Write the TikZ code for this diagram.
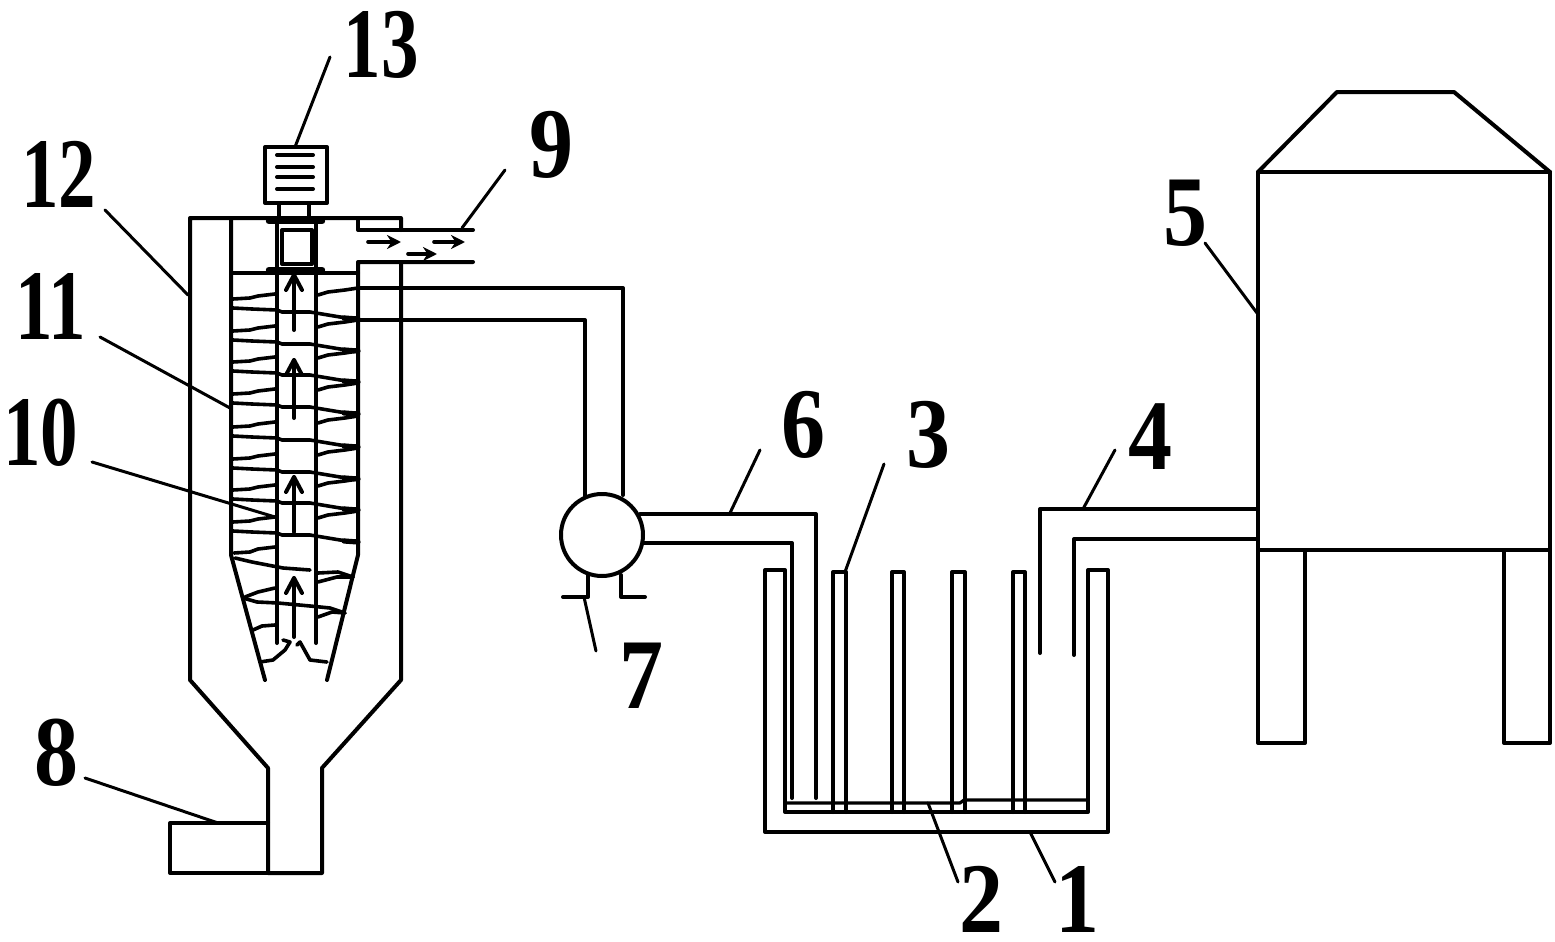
\documentclass[tikz,border=0pt]{standalone}
\usepackage{fontspec}
\usepackage{graphicx}
\setmainfont{Liberation Serif}
\usetikzlibrary{arrows.meta}
\tikzset{
  x=0.5pt,y=-0.5pt,
  wall/.style={line width=2pt,line cap=round,line join=round,black},
  thin wall/.style={line width=1.6pt,line cap=round,line join=round,black},
  blade/.style={line width=1.8pt,line cap=round,line join=round,black},
  bladeend/.style={line width=2.6pt,line cap=round,black},
  plate/.style={line width=3.2pt,line cap=round,black},
  leader/.style={line width=1.5pt,line cap=round,black},
  flowup/.style={line width=2pt,line cap=round,line join=round,black},
  flowright/.style={line width=1.8pt,line cap=round,black,-{Stealth[length=7pt,width=7pt]}},
  num/.style={font=\fontsize{50}{50}\selectfont\bfseries,inner sep=0pt,black},
}
\newcommand{\pairnum}[1]{\scalebox{0.75}[1]{#1}}
\newcommand{\onenum}[1]{\scalebox{0.88}[1]{#1}}
\begin{document}
\begin{tikzpicture}
\useasboundingbox (0,0) rectangle (1555,942);
% separator outer shell
\draw[wall] (401,230) -- (401,218) -- (190,218) -- (190,680) -- (268,768) -- (268,873) -- (322,873) -- (322,768) -- (401,680) -- (401,262);
\draw[wall] (268,823) -- (170,823) -- (170,873) -- (268,873);
% inner walls and outlet
\draw[wall] (231,218) -- (231,555) -- (265,680);
\draw[wall] (473,230) -- (358,230) -- (358,218);
\draw[wall] (473,262) -- (358,262) -- (358,555) -- (327,680);
% motor
\draw[wall] (265,147) rectangle (327,203);
\foreach \yy in {155,167,177,189} \draw[wall] (277,\yy) -- (313,\yy);
\draw[wall] (279,203) -- (279,218) (309,203) -- (309,218);
\draw[plate] (269,221) -- (322,221);
\draw[plate] (269,270) -- (322,270);
\draw[wall] (231,273) -- (358,273);
\draw[wall] (282,230) rectangle (312,264);
\draw[wall] (277,221) -- (277,643) (316,221) -- (316,643);
% spiral blades
\foreach \k in {308,340,371,403,436,468,499,531}{
  \draw[blade] (233,\k-9) -- (250,\k-10) -- (258,\k-12) -- (275,\k-14);
  \draw[blade] (233,\k) -- (252,\k+1) -- (277,\k+2) -- (282,\k+4) -- (310,\k+4) -- (316,\k+5) -- (340,\k+9) -- (358,\k+11);
  \draw[bladeend] (344,\k+10) -- (358,\k+11);
  \draw[blade] (318,\k-13) -- (328,\k-16) -- (345,\k-18) -- (358,\k-20);
}
\draw[blade] (234,553) -- (250,552) -- (258,549) -- (275,547);
\draw[blade] (235,558) -- (252,562) -- (283,568) -- (310,570);
\draw[blade] (318,573) -- (338,572) -- (353,577);
\draw[blade] (318,582) -- (337,577) -- (353,577);
\draw[blade] (245,597) -- (258,592) -- (275,588);
\draw[blade] (243,598) -- (257,602) -- (278,603) -- (310,606) -- (330,608) -- (345,613);
\draw[blade] (318,617) -- (332,612) -- (345,613);
\draw[blade] (253,630) -- (262,626) -- (275,625);
\draw[blade] (260,662) -- (273,660) -- (285,650) -- (290,642) -- (283,640);
\draw[blade] (327,662) -- (310,660) -- (300,642) -- (297,645);
% upward flow arrows
\foreach \top/\bot in {275/330,360/418,477/532,578/637}{
  \draw[flowup] (294,\bot) -- (294,\top);
  \draw[flowup] (286,\top+15) -- (294,\top) -- (302,\top+15);
}
% outlet flow arrows
\draw[flowright] (368,242) -- (401,242);
\draw[flowright] (408,254) -- (437,254);
\draw[flowright] (434,242) -- (465,242);
% pipe from separator to pump
\draw[wall] (358,288) -- (623,288) -- (623,495);
\draw[wall] (358,320) -- (585,320) -- (585,497);
% pump
\draw[wall] (602,535) circle (41);
\draw[wall] (640,514) -- (816,514) -- (816,798);
\draw[wall] (644,543) -- (792,543) -- (792,798);
\draw[wall] (563,597) -- (588,597) -- (588,575);
\draw[wall] (621,575) -- (621,597) -- (645,597);
% tank
\draw[wall] (785,812) -- (785,570) -- (765,570) -- (765,832) -- (1108,832) -- (1108,570) -- (1088,570) -- (1088,812) -- cycle;
\draw[thin wall] (785,803) -- (960,803) -- (964,800) -- (1088,800);
\foreach \a/\b in {833/846,892/904,952/965,1013/1025}
  \draw[wall] (\a,812) -- (\a,572) -- (\b,572) -- (\b,812);
% pipe from tower
\draw[wall] (1040,653) -- (1040,509) -- (1257,509);
\draw[wall] (1074,655) -- (1074,539) -- (1257,539);
% tower
\draw[wall] (1258,172) rectangle (1550,550);
\draw[wall] (1258,172) -- (1337,92) -- (1454,92) -- (1550,172);
\draw[wall] (1258,550) -- (1258,743) -- (1305,743) -- (1305,550);
\draw[wall] (1504,550) -- (1504,743) -- (1550,743) -- (1550,550);
% labels
\node[num] (n13) at (381,45) {\pairnum{13}};
\node[num] (n9) at (551,145) {\onenum{9}};
\node[num] (n12) at (59,174) {\pairnum{12}};
\node[num] (n11) at (51,306) {\pairnum{11}};
\node[num] (n10) at (41,433) {\pairnum{10}};
\node[num] (n5) at (1185,213) {\onenum{5}};
\node[num] (n6) at (803,425) {\onenum{6}};
\node[num] (n3) at (928,435) {\onenum{3}};
\node[num] (n4) at (1150,437) {\onenum{4}};
\node[num] (n7) at (641,676) {\onenum{7}};
\node[num] (n8) at (56,753) {\onenum{8}};
\node[num] (n2) at (981,899) {\onenum{2}};
\node[num] (n1) at (1077,899) {\onenum{1}};
% leaders
\foreach \nm/\ax/\ay/\bx/\by in {
  13/330/57/295/147, 9/505/170/462/228, 12/105/210/188/295, 11/100/337/230/408,
  10/92/462/275/517, 5/1205/243/1257/313, 6/760/450/730/513, 3/884/464/845/572,
  4/1115/450/1083/509, 7/584/597/596/651, 8/85/778/218/823, 2/928/803/958/882,
  1/1030/832/1055/882}{
  \coordinate (la\nm) at (\ax,\ay);
  \coordinate (lb\nm) at (\bx,\by);
  \draw[leader] (la\nm) -- (lb\nm);
}
\end{tikzpicture}
\end{document}
